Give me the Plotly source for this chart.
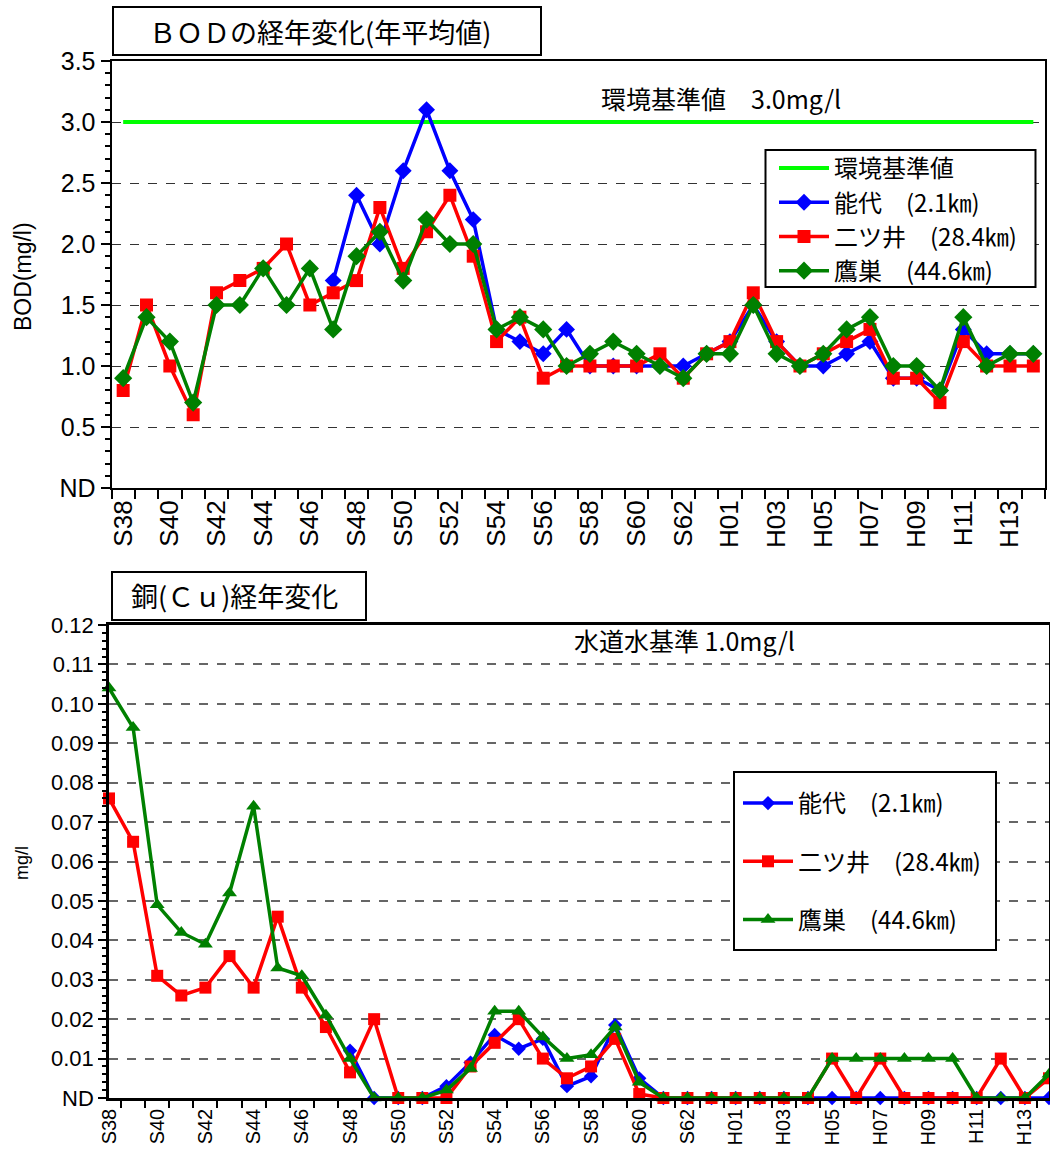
import plotly.graph_objects as go

# ---------------- data ----------------
categories = ["S38", "S39", "S40", "S41", "S42", "S43", "S44", "S45", "S46", "S47",
              "S48", "S49", "S50", "S51", "S52", "S53", "S54", "S55", "S56", "S57",
              "S58", "S59", "S60", "S61", "S62", "S63", "H01", "H02", "H03", "H04",
              "H05", "H06", "H07", "H08", "H09", "H10", "H11", "H12", "H13", "H14"]
tick_text = ["S38", "", "S40", "", "S42", "", "S44", "", "S46", "",
             "S48", "", "S50", "", "S52", "", "S54", "", "S56", "",
             "S58", "", "S60", "", "S62", "", "H01", "", "H03", "",
             "H05", "", "H07", "", "H09", "", "H11", "", "H13", ""]

bod_standard = 3.0
bod_noshiro = [None, None, None, None, None, None, None, None, None, 1.7,
               2.4, 2.0, 2.6, 3.1, 2.6, 2.2, 1.3, 1.2, 1.1, 1.3,
               1.0, 1.0, 1.0, 1.0, 1.0, 1.1, 1.2, 1.5, 1.2, 1.0,
               1.0, 1.1, 1.2, 0.9, 0.9, 0.8, 1.3, 1.1, 1.1, 1.1]
bod_futatsui = [0.8, 1.5, 1.0, 0.6, 1.6, 1.7, 1.8, 2.0, 1.5, 1.6,
                1.7, 2.3, 1.8, 2.1, 2.4, 1.9, 1.2, 1.4, 0.9, 1.0,
                1.0, 1.0, 1.0, 1.1, 0.9, 1.1, 1.2, 1.6, 1.2, 1.0,
                1.1, 1.2, 1.3, 0.9, 0.9, 0.7, 1.2, 1.0, 1.0, 1.0]
bod_takanosu = [0.9, 1.4, 1.2, 0.7, 1.5, 1.5, 1.8, 1.5, 1.8, 1.3,
                1.9, 2.1, 1.7, 2.2, 2.0, 2.0, 1.3, 1.4, 1.3, 1.0,
                1.1, 1.2, 1.1, 1.0, 0.9, 1.1, 1.1, 1.5, 1.1, 1.0,
                1.1, 1.3, 1.4, 1.0, 1.0, 0.8, 1.4, 1.0, 1.1, 1.1]

cu_noshiro = [None, None, None, None, None, None, None, None, None, None,
              0.012, 0.0, 0.0, 0.0, 0.003, 0.009, 0.016, 0.0125, 0.015, 0.003,
              0.0055, 0.0185, 0.005, 0.0, 0.0, 0.0, 0.0, 0.0, 0.0, 0.0,
              0.0, 0.0, 0.0, 0.0, 0.0, 0.0, 0.0, 0.0, 0.0, 0.0]
cu_futatsui = [0.076, 0.065, 0.031, 0.026, 0.028, 0.036, 0.028, 0.046, 0.028, 0.018,
               0.0065, 0.020, 0.0, 0.0, 0.0, 0.008, 0.014, 0.020, 0.010, 0.005,
               0.008, 0.015, 0.001, 0.0, 0.0, 0.0, 0.0, 0.0, 0.0, 0.0,
               0.010, 0.0, 0.010, 0.0, 0.0, 0.0, 0.0, 0.010, 0.0, 0.005]
cu_takanosu = [0.104, 0.094, 0.049, 0.042, 0.039, 0.052, 0.074, 0.033, 0.031, 0.021,
               0.010, 0.0, 0.0, 0.0, 0.002, 0.0075, 0.022, 0.022, 0.0155, 0.010,
               0.011, 0.018, 0.004, 0.0, 0.0, 0.0, 0.0, 0.0, 0.0, 0.0,
               0.010, 0.010, 0.010, 0.010, 0.010, 0.010, 0.0, 0.0, 0.0, 0.006]

bod_ticks = [0, 0.5, 1.0, 1.5, 2.0, 2.5, 3.0, 3.5]
bod_ticktext = ["ND", "0.5", "1.0", "1.5", "2.0", "2.5", "3.0", "3.5"]
cu_ticks = [0, 0.01, 0.02, 0.03, 0.04, 0.05, 0.06, 0.07, 0.08, 0.09, 0.10, 0.11, 0.12]
cu_ticktext = ["ND", "0.01", "0.02", "0.03", "0.04", "0.05", "0.06", "0.07",
               "0.08", "0.09", "0.10", "0.11", "0.12"]

names = ["能代　(2.1㎞)", "二ツ井　(28.4㎞)", "鷹巣　(44.6㎞)"]

# ---------------- layout helpers ----------------
W, H = 1050, 1151
JP = "Noto Sans CJK JP"
SANS = "Liberation Sans, Arial"


def fx(p):
    return p / W


def fy(p):
    return 1 - p / H


BLUE, RED, GREEN, LIME = "#0000FF", "#FF0000", "#008000", "#00FF00"
LW = 3.5

fig = go.Figure()

# ---------- top chart (BOD) ----------
fig.add_trace(go.Scatter(x=categories, y=[bod_standard] * len(categories), name="環境基準値",
                         mode="lines", line=dict(color=LIME, width=4),
                         xaxis="x", yaxis="y", legend="legend", legendgroup="a"))
fig.add_trace(go.Scatter(x=categories, y=bod_noshiro, name=names[0], mode="lines+markers",
                         line=dict(color=BLUE, width=LW), marker=dict(symbol="diamond", size=13, color=BLUE),
                         xaxis="x", yaxis="y", legend="legend", legendgroup="b"))
fig.add_trace(go.Scatter(x=categories, y=bod_futatsui, name=names[1], mode="lines+markers",
                         line=dict(color=RED, width=LW), marker=dict(symbol="square", size=13, color=RED),
                         xaxis="x", yaxis="y", legend="legend", legendgroup="c"))
fig.add_trace(go.Scatter(x=categories, y=bod_takanosu, name=names[2], mode="lines+markers",
                         line=dict(color=GREEN, width=LW), marker=dict(symbol="diamond", size=14, color=GREEN),
                         xaxis="x", yaxis="y", legend="legend", legendgroup="d"))

# ---------- bottom chart (Cu) ----------
fig.add_trace(go.Scatter(x=categories, y=cu_noshiro, name=names[0], mode="lines+markers",
                         line=dict(color=BLUE, width=LW), marker=dict(symbol="diamond", size=11, color=BLUE),
                         cliponaxis=False, xaxis="x2", yaxis="y2", legend="legend2", legendgroup="e"))
fig.add_trace(go.Scatter(x=categories, y=cu_futatsui, name=names[1], mode="lines+markers",
                         line=dict(color=RED, width=LW), marker=dict(symbol="square", size=12, color=RED),
                         cliponaxis=False, xaxis="x2", yaxis="y2", legend="legend2", legendgroup="f"))
fig.add_trace(go.Scatter(x=categories, y=cu_takanosu, name=names[2], mode="lines+markers",
                         line=dict(color=GREEN, width=LW), marker=dict(symbol="triangle-up", size=13, color=GREEN),
                         cliponaxis=False, xaxis="x2", yaxis="y2", legend="legend2", legendgroup="g"))

top_dom_x = [fx(111.5), fx(1045)]
top_dom_y = [fy(488), fy(61)]
bot_dom_x = [fx(109), fx(1049)]
bot_dom_y = [fy(1098), fy(625)]

shapes = [
    # title boxes
    dict(type="rect", xref="paper", yref="paper", x0=fx(113), x1=fx(541), y0=fy(55), y1=fy(7),
         line=dict(color="black", width=2), fillcolor="white"),
    dict(type="rect", xref="paper", yref="paper", x0=fx(112), x1=fx(366), y0=fy(620), y1=fy(572),
         line=dict(color="black", width=2), fillcolor="white"),
    # legend boxes
    dict(type="rect", xref="paper", yref="paper", x0=fx(765.5), x1=fx(1035.5), y0=fy(287), y1=fy(150),
         line=dict(color="black", width=2), fillcolor="white", layer="above"),
    dict(type="rect", xref="paper", yref="paper", x0=fx(734), x1=fx(996), y0=fy(950), y1=fy(772),
         line=dict(color="black", width=2), fillcolor="white", layer="above"),
]


def label(text, x, y, size, family=JP, angle=0):
    return dict(text=text, x=fx(x), y=fy(y), xref="paper", yref="paper", xanchor="center",
                yanchor="middle", textangle=angle, showarrow=False,
                font=dict(family=family, size=size, color="black"))


annotations = [
    label("ＢＯＤの経年変化(年平均値)", 320, 32, 27),
    label("銅(Ｃｕ)経年変化", 234, 596, 27),
    label("環境基準値　3.0mg/l", 721, 98, 25),
    label("水道水基準 1.0mg/l", 684, 640, 25),
    label("BOD(mg/l)", 23, 277, 23, SANS, -90),
    label("mg/l", 22, 863, 18, SANS, -90),
]

fig.update_layout(
    width=W, height=H, margin=dict(l=0, r=0, t=0, b=0, autoexpand=False),
    paper_bgcolor="white", plot_bgcolor="white",
    shapes=shapes, annotations=annotations,
    xaxis=dict(domain=top_dom_x, anchor="y", type="category", categoryorder="array",
               categoryarray=categories, range=[-0.5, len(categories) - 0.5], automargin=False,
               tickmode="array", tickvals=categories, ticktext=tick_text, tickson="boundaries",
               ticks="outside", ticklen=9, tickwidth=2, tickcolor="black", tickangle=-90,
               tickfont=dict(family=SANS, size=26, color="black"),
               showline=True, linecolor="black", linewidth=2, mirror=True, showgrid=False, zeroline=False),
    yaxis=dict(domain=top_dom_y, anchor="x", range=[0, 3.5], tickmode="array", automargin=False,
               tickvals=bod_ticks, ticktext=bod_ticktext,
               ticks="outside", ticklen=9, tickwidth=2, tickcolor="black",
               tickfont=dict(family=SANS, size=25, color="black"),
               minor=dict(ticks="outside", ticklen=5, tickwidth=2, tickcolor="black", dtick=0.1, tick0=0,
                          showgrid=False),
               showline=True, linecolor="black", linewidth=2, mirror=True,
               showgrid=True, gridcolor="#333333", griddash="dash", gridwidth=1, zeroline=False),
    xaxis2=dict(domain=bot_dom_x, anchor="y2", type="category", categoryorder="array",
                categoryarray=categories, range=[0, len(categories) - 1], automargin=False,
                tickmode="array", tickvals=categories, ticktext=tick_text, tickson="boundaries",
                ticks="outside", ticklen=7, tickwidth=2, tickcolor="black", tickangle=-90,
                tickfont=dict(family=SANS, size=20, color="black"),
                showline=True, linecolor="black", linewidth=2.5, mirror=True, showgrid=False, zeroline=False),
    xaxis3=dict(domain=bot_dom_x, anchor="y2", overlaying="x2", type="category", categoryorder="array",
                categoryarray=categories, range=[0, len(categories) - 1], automargin=False,
                tickmode="array", tickvals=categories, ticktext=[""] * len(categories),
                ticks="outside", ticklen=7, tickwidth=2, tickcolor="black",
                showline=False, showgrid=False, zeroline=False),
    yaxis2=dict(domain=bot_dom_y, anchor="x2", range=[0, 0.12], tickmode="array", automargin=False,
                tickvals=cu_ticks, ticktext=cu_ticktext,
                ticks="outside", ticklen=8, tickwidth=2, tickcolor="black",
                tickfont=dict(family=SANS, size=22, color="black"),
                minor=dict(ticks="outside", ticklen=4, tickwidth=1.5, tickcolor="black", dtick=0.002, tick0=0,
                           showgrid=False),
                showline=True, linecolor="black", linewidth=2.5, mirror=True,
                showgrid=True, gridcolor="#666666", griddash="dash", gridwidth=1.5, zeroline=False),
    legend=dict(x=fx(774), y=fy(146), xanchor="left", yanchor="top", bgcolor="rgba(0,0,0,0)",
                borderwidth=0, font=dict(family=JP, size=24, color="black"),
                traceorder="grouped", tracegroupgap=0, itemwidth=50),
    legend2=dict(x=fx(738), y=fy(781), xanchor="left", yanchor="top", bgcolor="rgba(0,0,0,0)",
                 borderwidth=0, font=dict(family=JP, size=24, color="black"),
                 traceorder="grouped", tracegroupgap=24, itemwidth=50),
    showlegend=True,
)

fig.write_html("out.html", config={"displayModeBar": False},
               post_script="document.body.style.margin='0';document.body.style.overflow='hidden';")
